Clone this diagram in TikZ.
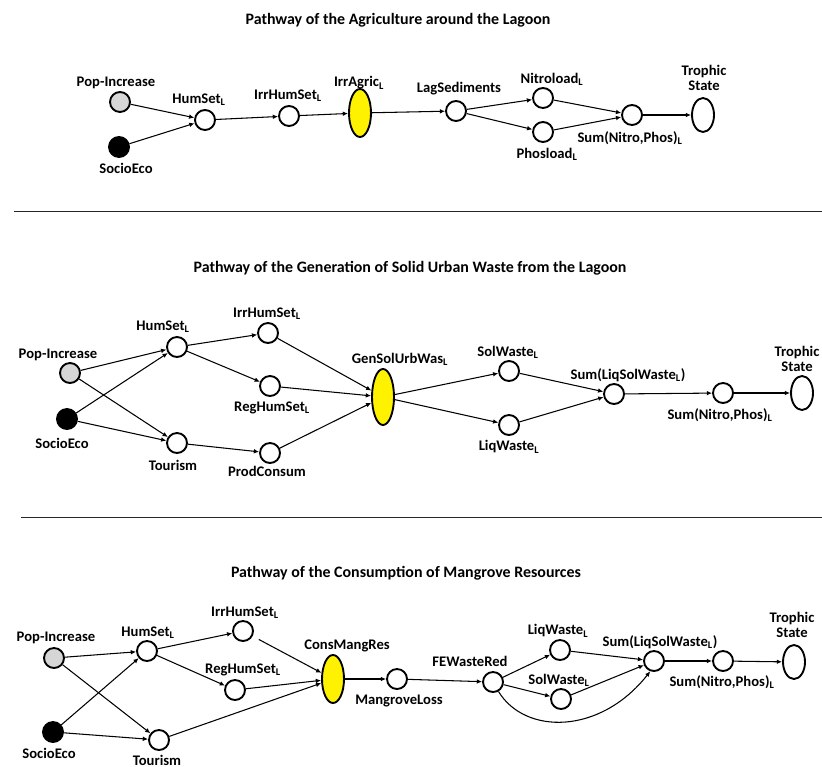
\documentclass[tikz,border=0pt]{standalone}
\usepackage{fontspec}
\setmainfont{Carlito}
\usetikzlibrary{arrows.meta}
\newcommand{\Ls}{\textsubscript{L}}
\tikzset{
  every node/.style={font=\bfseries\fontsize{12.5}{13.5}\selectfont},
  var/.style={circle, draw, line width=1.6pt, minimum size=20*0.03cm, inner sep=0pt, fill=white},
  popnode/.style={var, fill=black!16},
  econode/.style={var, fill=black},
  keynode/.style={ellipse, draw, line width=1.6pt, minimum width=22*0.03cm, minimum height=48*0.03cm, inner sep=0pt, fill=yellow},
  statenode/.style={ellipse, draw, line width=1.6pt, minimum width=22*0.03cm, minimum height=34*0.03cm, inner sep=0pt},
  lbl/.style={inner sep=0pt, align=center},
  ttl/.style={inner sep=0pt, font=\bfseries\fontsize{13.6}{15}\selectfont},
  link/.style={-{Latex[length=4.5pt,width=4pt]}, line width=0.9pt},
  rule/.style={line width=1.5pt, black!85}
}
\usetikzlibrary{shapes.geometric}
\begin{document}
\begin{tikzpicture}[x=0.03cm, y=-0.03cm]
\useasboundingbox (0,0) rectangle (822,767);

% ---------- agriculture pathway ----------
\node[ttl] (t1) at (398,20) {Pathway of the Agriculture around the Lagoon};
\node[popnode] (a1) at (120,102) {};
\node[econode] (a2) at (119,147) {};
\node[var] (a3) at (205,120) {};
\node[var] (a4) at (289,116) {};
\node[keynode] (a5) at (360,113) {};
\node[var] (a6) at (456,111) {};
\node[var] (a7) at (543,98) {};
\node[var] (a8) at (543,132) {};
\node[var] (a9) at (632,115) {};
\node[statenode] (a10) at (703,115) {};
\node[lbl] (la1) at (116,83) {Pop-Increase};
\node[lbl] (la2) at (126,168) {SocioEco};
\node[lbl] (la3) at (199,100) {HumSet\Ls};
\node[lbl] (la4) at (288,96) {IrrHumSet\Ls};
\node[lbl] (la5) at (359,83) {IrrAgric\Ls};
\node[lbl] (la6) at (459,89) {LagSediments};
\node[lbl] (la7) at (552,79) {Nitroload\Ls};
\node[lbl] (la8) at (547,154) {Phosload\Ls};
\node[lbl] (la9) at (630,138) {Sum(Nitro,Phos)\Ls};
\node[lbl] (la10) at (704,78) {Trophic\\State};
\draw[link] (a1) -- (a3);
\draw[link] (a2) -- (a3);
\draw[link] (a3) -- (a4);
\draw[link] (a4) -- (a5);
\draw[link] (a5) -- (a6);
\draw[link] (a6) -- (a7);
\draw[link] (a6) -- (a8);
\draw[link] (a7) -- (a9);
\draw[link] (a8) -- (a9);
\draw[link] (a9) -- (a10);

\coordinate (r1a) at (14,211.5);
\coordinate (r1b) at (822,211.5);
\draw[rule] (r1a) -- (r1b);

% ---------- solid urban waste pathway ----------
\node[ttl] (t2) at (410,268) {Pathway of the Generation of Solid Urban Waste from the Lagoon};
\node[popnode] (b1) at (70,373) {};
\node[econode] (b2) at (67,419) {};
\node[var] (b3) at (177,347) {};
\node[var] (b4) at (268,333) {};
\node[var] (b5) at (270,386) {};
\node[var] (b6) at (177,443) {};
\node[var] (b7) at (270,453) {};
\node[keynode, minimum height=56*0.03cm] (b8) at (383,397) {};
\node[var] (b9) at (509,371) {};
\node[var] (b10) at (509,425) {};
\node[var] (b11) at (614,394) {};
\node[var] (b12) at (723,393) {};
\node[statenode] (b13) at (802,393) {};
\node[lbl] (lb1) at (58,355) {Pop-Increase};
\node[lbl] (lb2) at (62,443) {SocioEco};
\node[lbl] (lb3) at (163,327) {HumSet\Ls};
\node[lbl] (lb4) at (267,314) {IrrHumSet\Ls};
\node[lbl] (lb5) at (272,408) {RegHumSet\Ls};
\node[lbl] (lb6) at (173,465) {Tourism};
\node[lbl] (lb7) at (267,471) {ProdConsum};
\node[lbl] (lb8) at (400,359) {GenSolUrbWas\Ls};
\node[lbl] (lb9) at (508,352) {SolWaste\Ls};
\node[lbl] (lb10) at (509,447) {LiqWaste\Ls};
\node[lbl] (lb11) at (628,375) {Sum(LiqSolWaste\Ls)};
\node[lbl] (lb12) at (720,415) {Sum(Nitro,Phos)\Ls};
\node[lbl] (lb13) at (797,359) {Trophic\\State};
\draw[link] (b1) -- (b3);
\draw[link] (b1) -- (b6);
\draw[link] (b2) -- (b3);
\draw[link] (b2) -- (b6);
\draw[link] (b3) -- (b4);
\draw[link] (b3) -- (b5);
\draw[link] (b4) -- (b8);
\draw[link] (b5) -- (b8);
\draw[link] (b6) -- (b7);
\draw[link] (b7) -- (b8);
\draw[link] (b8) -- (b9);
\draw[link] (b8) -- (b10);
\draw[link] (b9) -- (b11);
\draw[link] (b10) -- (b11);
\draw[link] (b11) -- (b12);
\draw[link] (b12) -- (b13);

\coordinate (r2a) at (21,517.5);
\coordinate (r2b) at (822,517.5);
\draw[rule] (r2a) -- (r2b);

% ---------- mangrove resources pathway ----------
\node[ttl] (t3) at (406,573) {Pathway of the Consumption of Mangrove Resources};
\node[popnode] (c1) at (54,658) {};
\node[econode] (c2) at (53,732) {};
\node[var] (c3) at (147,651) {};
\node[var] (c4) at (243,631) {};
\node[var] (c5) at (235,690) {};
\node[var] (c6) at (159,740) {};
\node[keynode] (c7) at (333,679) {};
\node[var] (c8) at (397,679) {};
\node[var] (c9) at (493,682) {};
\node[var] (c10) at (560,650) {};
\node[var] (c11) at (561,699) {};
\node[var] (c12) at (654,661) {};
\node[var] (c13) at (723,661) {};
\node[statenode] (c14) at (794,662) {};
\node[lbl] (lc1) at (56,638) {Pop-Increase};
\node[lbl] (lc2) at (49,753) {SocioEco};
\node[lbl] (lc3) at (148,633) {HumSet\Ls};
\node[lbl] (lc4) at (245,613) {IrrHumSet\Ls};
\node[lbl] (lc5) at (243,670) {RegHumSet\Ls};
\node[lbl] (lc6) at (157,760) {Tourism};
\node[lbl] (lc7) at (347,646) {ConsMangRes};
\node[lbl] (lc8) at (399,701) {MangroveLoss};
\node[lbl] (lc9) at (470,661) {FEWasteRed};
\node[lbl] (lc10) at (558,631) {LiqWaste\Ls};
\node[lbl] (lc11) at (559,680) {SolWaste\Ls};
\node[lbl] (lc12) at (660,642) {Sum(LiqSolWaste\Ls)};
\node[lbl] (lc13) at (722,682) {Sum(Nitro,Phos)\Ls};
\node[lbl] (lc14) at (792,625) {Trophic\\State};
\draw[link] (c1) -- (c3);
\draw[link] (c1) -- (c6);
\draw[link] (c2) -- (c3);
\draw[link] (c2) -- (c6);
\draw[link] (c3) -- (c4);
\draw[link] (c3) -- (c5);
\draw[link, shorten <=6pt] (c4) -- (c7);
\draw[link] (c5) -- (c7);
\draw[link] (c6) -- (c7);
\draw[link] (c7) -- (c8);
\draw[link] (c8) -- (c9);
\draw[link] (c9) -- (c10);
\draw[link] (c9) -- (c11);
\draw[link] (c10) -- (c12);
\draw[link] (c11) -- (c12);
\draw[link] (c9.-60) .. controls (525,735) and (600,735) .. (c12.-110);
\draw[link] (c12) -- (c13);
\draw[link] (c13) -- (c14);
\end{tikzpicture}
\end{document}
